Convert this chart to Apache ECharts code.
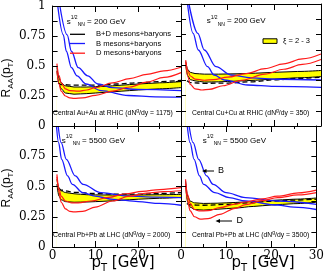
<!DOCTYPE html>
<html><head><meta charset="utf-8">
<script src="https://cdn.jsdelivr.net/npm/echarts@6/dist/echarts.min.js"></script>
<style>html,body{margin:0;padding:0;background:#fff}#c{width:327px;height:273px}</style>
</head><body><div id="c"></div><script>
// shared pT grid for the xi = 2-3 band (B+D mesons+baryons)
const bandPT = [1, 1.5, 2, 3, 5, 8, 12, 16, 20, 25, 30];

// Central Au+Au at RHIC
const auBandHi = [0.49, 0.40, 0.36, 0.335, 0.325, 0.325, 0.33, 0.34, 0.35, 0.36, 0.37];
const auBandLo = [0.46, 0.35, 0.31, 0.275, 0.265, 0.27, 0.28, 0.29, 0.30, 0.31, 0.32];
const auDash = [[1.3,0.36],[2,0.345],[5,0.34],[10,0.34],[15,0.35],[20,0.36],[25,0.37],[30,0.38]];
const auB1 = [[1.2,1.0],[2.5,0.76],[3.2,0.623],[4.4,0.486],[5.7,0.418],[7.8,0.35],[11.3,0.295],[17.7,0.254],[24,0.243],[30,0.24]];
const auB2 = [[1.7,1.0],[3.4,0.76],[4.4,0.623],[6.0,0.486],[8.2,0.418],[10.6,0.35],[14,0.32],[20,0.305],[30,0.295]];
const auD1 = [[1,0.52],[1.5,0.42],[2,0.36],[3,0.31],[4,0.295],[6,0.29],[8,0.30],[10,0.32],[14,0.36],[18,0.395],[22,0.43],[26,0.46],[30,0.49]];
const auD2 = [[1,0.46],[1.5,0.35],[2,0.29],[3,0.25],[4,0.235],[5,0.23],[7,0.235],[10,0.255],[14,0.29],[18,0.325],[22,0.365],[26,0.405],[30,0.445]];

// Central Cu+Cu at RHIC
const cuBandHi = [0.53, 0.46, 0.44, 0.43, 0.425, 0.425, 0.428, 0.433, 0.44, 0.447, 0.455];
const cuBandLo = [0.50, 0.41, 0.38, 0.37, 0.36, 0.362, 0.368, 0.375, 0.385, 0.395, 0.405];
const cuDash = [[1.3,0.37],[2,0.355],[5,0.35],[10,0.352],[15,0.362],[20,0.378],[25,0.39],[30,0.40]];
const cuB1 = [[1.4,1.0],[2.6,0.76],[3.7,0.623],[5.7,0.486],[7.1,0.418],[9.3,0.377],[14.3,0.336],[20,0.325],[30,0.317]];
const cuB2 = [[1.7,1.0],[3.6,0.76],[5.0,0.623],[7.5,0.486],[10.7,0.418],[15,0.395],[21,0.383],[30,0.377]];
const cuD1 = [[1,0.54],[1.5,0.45],[2,0.41],[3,0.385],[5,0.375],[7,0.38],[10,0.40],[14,0.43],[18,0.47],[22,0.51],[26,0.55],[30,0.59]];
const cuD2 = [[1,0.52],[1.5,0.40],[2,0.34],[3,0.305],[4.5,0.295],[6,0.30],[9,0.33],[13,0.375],[18,0.425],[22,0.465],[26,0.505],[30,0.545]];

// Central Pb+Pb at LHC, dNg/dy = 2000
const pb2BandHi = [0.56, 0.49, 0.465, 0.45, 0.44, 0.432, 0.43, 0.43, 0.43, 0.432, 0.435];
const pb2BandLo = [0.52, 0.42, 0.39, 0.375, 0.37, 0.372, 0.378, 0.386, 0.395, 0.403, 0.41];
const pb2Dash = [[1.3,0.48],[2,0.47],[5,0.452],[10,0.442],[15,0.437],[20,0.437],[25,0.442],[30,0.45]];
const pb2B1 = [[0.9,1.0],[1.4,0.862],[2.1,0.725],[3.5,0.587],[4.6,0.518],[7.1,0.449],[9.9,0.42],[14.2,0.394],[20,0.375],[25,0.36],[30,0.345]];
const pb2B2 = [[1.3,1.0],[2.0,0.862],[3.2,0.725],[5.3,0.587],[7.1,0.518],[11.3,0.449],[17.7,0.42],[24,0.412],[30,0.408]];
const pb2D1 = [[1,0.60],[1.5,0.48],[2,0.42],[3,0.38],[4.5,0.365],[6,0.365],[9,0.38],[13,0.41],[17,0.44],[21,0.46],[25,0.475],[30,0.49]];
const pb2D2 = [[1,0.58],[1.5,0.45],[2,0.37],[3,0.315],[4,0.295],[5,0.29],[7,0.295],[10,0.33],[14,0.38],[18,0.42],[22,0.445],[26,0.458],[30,0.465]];

// Central Pb+Pb at LHC, dNg/dy = 3500
const pb3BandHi = [0.55, 0.42, 0.38, 0.365, 0.36, 0.362, 0.368, 0.376, 0.385, 0.395, 0.405];
const pb3BandLo = [0.52, 0.37, 0.33, 0.31, 0.305, 0.312, 0.322, 0.335, 0.347, 0.358, 0.37];
const pb3Dash = [[1.3,0.36],[2,0.348],[5,0.345],[10,0.352],[15,0.365],[20,0.378],[25,0.388],[30,0.395]];
const pb3B1 = [[1.4,1.0],[2.0,0.862],[2.9,0.725],[4.1,0.587],[5.0,0.518],[7.5,0.449],[10.7,0.408],[14.3,0.38],[21.4,0.347],[25,0.33],[30,0.31]];
const pb3B2 = [[1.8,1.0],[2.7,0.862],[3.9,0.725],[5.7,0.587],[7.1,0.518],[10,0.449],[14.3,0.408],[21.4,0.38],[30,0.353]];
const pb3D1 = [[1,0.56],[1.5,0.43],[2,0.36],[3,0.31],[4,0.298],[6,0.30],[8.6,0.325],[12,0.355],[14.3,0.372],[18,0.398],[21.4,0.42],[26,0.447],[30,0.47]];
const pb3D2 = [[1,0.52],[1.5,0.38],[2,0.30],[3,0.25],[4.3,0.23],[6,0.235],[8.6,0.27],[12,0.32],[14.3,0.35],[18,0.383],[21.4,0.408],[26,0.43],[30,0.449]];

const xTicks = [0, 10, 20, 30];
const yTicks = [0, 0.25, 0.5, 0.75, 1];
const systemLabels = ['Central Au+Au at RHIC (dN{p|g}/dy = 1175)', 'Central Cu+Cu at RHIC (dN{p|g}/dy = 350)',
  'Central Pb+Pb at LHC (dN{p|g}/dy = 2000)', 'Central Pb+Pb at LHC (dN{p|g}/dy = 3500)'];
const energyLabels = ['200', '200', '5500', '5500'];
const legendNames = ['B+D mesons+baryons', 'B mesons+baryons', 'D mesons+baryons'];

const panels = [
  {hi: auBandHi, lo: auBandLo, dash: auDash, blue: [auB1, auB2], red: [auD1, auD2]},
  {hi: cuBandHi, lo: cuBandLo, dash: cuDash, blue: [cuB1, cuB2], red: [cuD1, cuD2]},
  {hi: pb2BandHi, lo: pb2BandLo, dash: pb2Dash, blue: [pb2B1, pb2B2], red: [pb2D1, pb2D2]},
  {hi: pb3BandHi, lo: pb3BandLo, dash: pb3Dash, blue: [pb3B1, pb3B2], red: [pb3D1, pb3D2]}
];

const grids = [
  {left: 40, top: 4, width: 141, height: 122},
  {left: 181, top: 4, width: 140, height: 122},
  {left: 40, top: 126, width: 141, height: 121},
  {left: 181, top: 126, width: 140, height: 121}
];

const BLUE = '#1a1aff', RED = '#ff1a1a', YEL = '#ffff00';
const sans = 'Liberation Sans';
const tickFont = {fontFamily: 'DejaVu Serif', fontSize: 12, color: '#000'};
const richY = {
  n: {fontSize: 12, fontFamily: sans, lineHeight: 16, verticalAlign: 'middle', color: '#000'},
  b: {fontSize: 8, fontFamily: sans, lineHeight: 8, verticalAlign: 'bottom', color: '#000'}
};
const yNameShift = [24, 0, 3, 0];
const xAxes = [], yAxes = [], series = [];

grids.forEach((g, i) => {
  const bottomRow = i >= 2, leftCol = i % 2 === 0;
  ['bottom', 'top'].forEach(pos => {
    xAxes.push({
      type: 'value', gridIndex: i, position: pos, min: xTicks[0], max: xTicks[xTicks.length - 1], interval: 10, z: 20,
      axisLine: {show: true, onZero: false, lineStyle: {color: '#000', width: 1}},
      axisTick: {show: true, inside: true, length: 6, lineStyle: {color: '#000'}},
      minorTick: {show: true, splitNumber: 2, length: 3, lineStyle: {color: '#000'}},
      splitLine: {show: false}, minorSplitLine: {show: false},
      axisLabel: {show: pos === 'bottom' && bottomRow, margin: 3, ...tickFont,
        formatter: v => (leftCol && v === 30) ? '' : String(v)}
    });
  });
  ['left', 'right'].forEach(pos => {
    const withName = pos === 'left' && leftCol;
    yAxes.push({
      type: 'value', gridIndex: i, position: pos, min: 0, max: 1, interval: 0.25, z: 20,
      name: withName ? '{n|R}{b|AA}{n|(p}{b|T}{n|)}' : '',
      nameLocation: 'middle', nameRotate: 90, nameGap: 30,
      nameTextStyle: {rich: richY, padding: [0, yNameShift[i], 0, 0]},
      axisLine: {show: true, onZero: false, lineStyle: {color: '#000', width: 1}},
      axisTick: {show: true, inside: true, length: 5, lineStyle: {color: '#000'}},
      minorTick: {show: true, splitNumber: 2, length: 5, lineStyle: {color: '#000'}},
      splitLine: {show: false}, minorSplitLine: {show: false},
      axisLabel: {show: pos === 'left' && leftCol, margin: 7, ...tickFont,
        formatter: v => (bottomRow && v === 1) ? '' : String(v)}
    });
  });
  const p = panels[i];
  const ax = {xAxisIndex: 2 * i, yAxisIndex: 2 * i, symbol: 'none', smooth: 0.35, smoothMonotone: 'x', silent: true};
  // band: upper edge filled yellow down to the axis, lower edge filled white over it
  series.push({...ax, type: 'line', z: 1, data: bandPT.map((x, k) => [x, p.hi[k]]),
    lineStyle: {color: '#000', width: 1}, areaStyle: {color: YEL, opacity: 1, origin: 'start'}});
  series.push({...ax, type: 'line', z: 1.5, data: bandPT.map((x, k) => [x, p.lo[k]]),
    lineStyle: {color: '#000', width: 1}, areaStyle: {color: '#fff', opacity: 1, origin: 'start'}});
  series.push({...ax, type: 'line', z: 3, data: p.dash, lineStyle: {color: '#000', width: 1.3, type: [5, 3]}});
  p.blue.forEach(d => series.push({...ax, type: 'line', z: 4, data: d, lineStyle: {color: BLUE, width: 1.3}}));
  p.red.forEach(d => series.push({...ax, type: 'line', z: 4, data: d, lineStyle: {color: RED, width: 1.2}}));
});

const richSS = {
  n: {fontSize: 8, fontFamily: sans, lineHeight: 12, verticalAlign: 'middle'},
  p: {fontSize: 5, fontFamily: sans, lineHeight: 5, verticalAlign: 'top'},
  b: {fontSize: 5, fontFamily: sans, lineHeight: 5, verticalAlign: 'bottom'}
};
function txt(x, y, text, size) {
  return {type: 'text', x: x, y: y, z: 100, silent: true,
    style: {text: text, fill: '#000', font: size + 'px "' + sans + '"', textAlign: 'left', textVerticalAlign: 'middle'}};
}
const graphics = [];
const ssPos = [[66.7, 21.5], [206.7, 21], [61.7, 140.5], [202.7, 140.5]];
ssPos.forEach((q, i) => {
  graphics.push({type: 'text', x: q[0], y: q[1], z: 100, silent: true,
    style: {text: '{n|s}{p|1/2}{b|NN}{n| = ' + energyLabels[i] + ' GeV}', fill: '#000', rich: richSS,
      textAlign: 'left', textVerticalAlign: 'middle'}});
});
const sysPos = [[53, 113], [192, 113], [53, 235], [192, 235]];
const richSys = {
  n: {fontSize: 6.8, fontFamily: sans, lineHeight: 9, verticalAlign: 'middle'},
  p: {fontSize: 5, fontFamily: sans, lineHeight: 5, verticalAlign: 'top'}
};
sysPos.forEach((q, i) => {
  const t = systemLabels[i].replace(/^([^{]*)\{p\|g\}(.*)$/, '{n|$1}{p|g}{n|$2}');
  graphics.push({type: 'text', x: q[0], y: q[1], z: 100, silent: true,
    style: {text: t, fill: '#000', rich: richSys, textAlign: 'left', textVerticalAlign: 'middle'}});
});
// legend (top-left panel)
const legColors = ['#000', BLUE, RED];
const legY = [34.3, 43.5, 53.2];
legendNames.forEach((n, k) => {
  graphics.push({type: 'line', z: 100, silent: true, shape: {x1: 70, y1: legY[k], x2: 85, y2: legY[k]},
    style: {stroke: legColors[k], lineWidth: 1.3}});
  graphics.push(txt(96, legY[k], n, 7.6));
});
// band legend (top-right panel)
graphics.push({type: 'rect', z: 100, silent: true, shape: {x: 263, y: 38.8, width: 14, height: 4.6},
  style: {fill: YEL, stroke: '#000', lineWidth: 1}});
graphics.push(txt(283, 41, '\u03be = 2 - 3', 7.5));
// arrows (bottom-right panel)
graphics.push({type: 'line', z: 100, silent: true, shape: {x1: 214, y1: 171, x2: 204, y2: 171}, style: {stroke: '#000', lineWidth: 1}});
graphics.push({type: 'polygon', z: 100, silent: true, shape: {points: [[202, 171], [206.5, 169], [206.5, 173]]}, style: {fill: '#000'}});
graphics.push(txt(218, 171, 'B', 9));
graphics.push({type: 'line', z: 100, silent: true, shape: {x1: 232, y1: 221, x2: 218, y2: 221}, style: {stroke: '#000', lineWidth: 1}});
graphics.push({type: 'polygon', z: 100, silent: true, shape: {points: [[215.5, 221], [220, 219], [220, 223]]}, style: {fill: '#000'}});
graphics.push(txt(236.5, 221, 'D', 9));
// x axis titles
const richX = {
  n: {fontSize: 15, fontFamily: 'DejaVu Sans', lineHeight: 20, verticalAlign: 'middle'},
  b: {fontSize: 10, fontFamily: 'DejaVu Sans', lineHeight: 10, verticalAlign: 'bottom'}
};
[[123, 263], [263, 263]].forEach(q => {
  graphics.push({type: 'text', x: q[0], y: q[1], z: 100, silent: true,
    style: {text: '{n|p}{b|T}{n| [GeV]}', fill: '#000', rich: richX, textAlign: 'center', textVerticalAlign: 'middle'}});
});

const chart = echarts.init(document.getElementById('c'), null, {renderer: 'canvas'});
chart.setOption({
  animation: false,
  backgroundColor: '#fff',
  grid: grids.map(g => Object.assign({containLabel: false}, g)),
  xAxis: xAxes, yAxis: yAxes, series: series, graphic: {elements: graphics}
});
</script></body></html>
